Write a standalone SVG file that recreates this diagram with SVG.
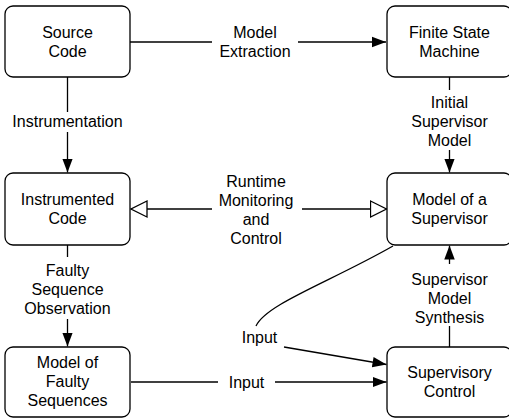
<svg xmlns="http://www.w3.org/2000/svg" width="509" height="420" viewBox="0 0 509 420">
<style>
.box{fill:#fff;stroke:#000;stroke-width:1.3}
.t{font-family:"Liberation Sans",Arial,Helvetica,sans-serif;font-size:16px;text-anchor:middle;fill:#000}
.c{fill:none;stroke:#000;stroke-width:1.3}
</style>
<defs>
<marker id="fa" markerUnits="userSpaceOnUse" markerWidth="14" markerHeight="12" viewBox="0 0 12 10" refX="12" refY="5" orient="auto"><path d="M0,0.5 L12,5 L0,9.5 z" fill="#000"/></marker>
<marker id="oa" markerUnits="userSpaceOnUse" markerWidth="18" markerHeight="20" viewBox="-1 -1 18 20" refX="16" refY="9" orient="auto-start-reverse"><path d="M0,1 L16,9 L0,17 z" fill="#fff" stroke="#000" stroke-width="1.3"/></marker>
</defs>
<g id="connectors">
<path class="c" d="M130,42 H212"/>
<path class="c" d="M298,42 H386" marker-end="url(#fa)"/>
<text class="t" x="255" y="37.7">Model</text>
<text class="t" x="255" y="56.7">Extraction</text>

<path class="c" d="M67.5,77 V112"/>
<path class="c" d="M67.5,132 V172.5" marker-end="url(#fa)"/>
<text class="t" x="67.5" y="126.7">Instrumentation</text>

<path class="c" d="M449.5,77 V90"/>
<path class="c" d="M449.5,150 V172.5" marker-end="url(#fa)"/>
<text class="t" x="449.5" y="108">Initial</text>
<text class="t" x="449.5" y="127">Supervisor</text>
<text class="t" x="449.5" y="146">Model</text>

<path class="c" d="M212,209 H131" marker-end="url(#oa)"/>
<path class="c" d="M302,209 H386.5" marker-end="url(#oa)"/>
<text class="t" x="256" y="187">Runtime</text>
<text class="t" x="256" y="206">Monitoring</text>
<text class="t" x="256" y="225">and</text>
<text class="t" x="256" y="244">Control</text>

<path class="c" d="M67.5,245 V257"/>
<path class="c" d="M67.5,319 V346.5" marker-end="url(#fa)"/>
<text class="t" x="67.5" y="276">Faulty</text>
<text class="t" x="67.5" y="295">Sequence</text>
<text class="t" x="67.5" y="314">Observation</text>

<path class="c" d="M449.5,347 V326"/>
<path class="c" d="M449.5,264 V245.5" marker-end="url(#fa)"/>
<text class="t" x="449.5" y="285">Supervisor</text>
<text class="t" x="449.5" y="304">Model</text>
<text class="t" x="449.5" y="323">Synthesis</text>

<path class="c" d="M131,382 H218"/>
<path class="c" d="M275,382 H386.5" marker-end="url(#fa)"/>
<text class="t" x="246.5" y="387.7">Input</text>

<path class="c" d="M393,246 C330,282 266,304 256,326"/>
<path class="c" d="M284,347 L386.5,364.5" marker-end="url(#fa)"/>
<text class="t" x="259.5" y="343">Input</text>
</g>
<g id="source-code"><rect class="box" x="5" y="6" width="125" height="71" rx="8"/><text class="t" x="67.5" y="37.7">Source</text><text class="t" x="67.5" y="56.7">Code</text></g>
<g id="fsm"><rect class="box" x="387" y="6" width="125" height="71" rx="8"/><text class="t" x="449.5" y="37.7">Finite State</text><text class="t" x="449.5" y="56.7">Machine</text></g>
<g id="instrumented-code"><rect class="box" x="5" y="173" width="125" height="72" rx="8"/><text class="t" x="67.5" y="204.7">Instrumented</text><text class="t" x="67.5" y="223.7">Code</text></g>
<g id="model-supervisor"><rect class="box" x="387" y="173" width="125" height="72" rx="8"/><text class="t" x="449.5" y="204.7">Model of a</text><text class="t" x="449.5" y="223.7">Supervisor</text></g>
<g id="faulty-sequences"><rect class="box" x="5" y="347" width="125" height="70" rx="8"/><text class="t" x="67.5" y="368">Model of</text><text class="t" x="67.5" y="387">Faulty</text><text class="t" x="67.5" y="406">Sequences</text></g>
<g id="supervisory-control"><rect class="box" x="387" y="347" width="125" height="70" rx="8"/><text class="t" x="449.5" y="377.7">Supervisory</text><text class="t" x="449.5" y="396.7">Control</text></g>
</svg>
